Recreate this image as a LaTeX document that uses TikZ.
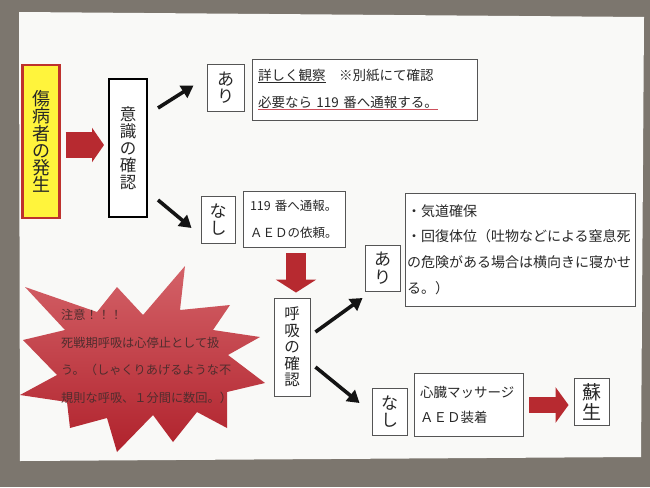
\documentclass[tikz,border=0pt]{standalone}
\usepackage{fontspec}
\newfontfamily\jp{Noto Sans CJK JP}
\usetikzlibrary{arrows.meta,calc}
\definecolor{carpet}{RGB}{124,118,110}
\definecolor{paper}{RGB}{249,249,247}
\definecolor{redarrow}{RGB}{183,42,48}
\definecolor{yel}{RGB}{255,244,60}
\definecolor{yelborder}{RGB}{190,50,45}
\definecolor{boxline}{RGB}{85,85,85}
\definecolor{burstlight}{RGB}{212,98,104}
\definecolor{burstdark}{RGB}{176,34,44}
\definecolor{bursttext}{RGB}{80,45,46}
\definecolor{txt}{RGB}{40,40,40}
\definecolor{wavy}{RGB}{205,80,92}
\newcommand\redul[1]{\leavevmode\setbox0\hbox{#1}\rlap{\color{wavy}\rule[-3.2pt]{\wd0}{0.9pt}}\box0}
\newcommand\grayul[1]{\leavevmode\setbox0\hbox{#1}\rlap{\color{txt}\rule[-3.2pt]{\wd0}{0.9pt}}\box0}
\begin{document}
\begin{tikzpicture}[x=1pt,y=-1pt,
  thinbox/.style={draw=boxline,line width=0.9pt,fill=white,inner sep=0pt,text=txt},
  vbox/.style={thinbox,align=center},
  blackarrow/.style={draw=black!92,line width=3.6pt,-{Triangle[length=12pt,width=14pt]}},
  redblock/.style={draw=redarrow},
]
\useasboundingbox (0,0) rectangle (650,487);
% background and paper
\fill[carpet] (0,0) rectangle (650,487);
\fill[paper] (19,12) -- (644,17) -- (641,457) -- (20,461) -- cycle;

% starburst
\shade[top color=burstlight,bottom color=burstdark]
  (25,287) -- (97,312) -- (117,287) -- (143,315) -- (185,266) -- (180,310)
  -- (230,305) -- (213,330) -- (260,337) -- (228,355) -- (265,383)
  -- (227,392) -- (227,428) -- (197,412) -- (173,442) -- (153,415)
  -- (117,452) -- (107,418) -- (70,428) -- (67,402) -- (20,395)
  -- (57,375) -- (23,340) -- (65,330) -- cycle;
\node[anchor=west,align=left,inner sep=0pt,text=bursttext,
  font=\jp\fontsize{12.2}{27.7}\selectfont] (caution) at (61,356.5)
  {注意！！！\\死戦期呼吸は心停止として扱\\う。（しゃくりあげるような不\\規則な呼吸、１分間に数回。）};

% nodes
\node[draw=yelborder,line width=2.4pt,fill=yel,inner sep=0pt,align=center,
  minimum width=37pt,minimum height=153pt,text=black!85,
  font=\jp\fontsize{18}{17.2}\selectfont] (start) at (41,141.5)
  {傷\\病\\者\\の\\発\\生};
\node[vbox,draw=black,line width=2pt,minimum width=38pt,minimum height=138pt,
  font=\jp\fontsize{16.5}{17}\selectfont] (ishiki) at (128,148)
  {意\\識\\の\\確\\認};
\node[vbox,minimum width=37pt,minimum height=47pt,
  font=\jp\fontsize{17}{17.5}\selectfont] (ari1) at (225.5,87.5) {あ\\り};
\node[thinbox,minimum width=225pt,minimum height=61pt,text width=213pt,align=left,
  font=\jp\fontsize{13.5}{27}\selectfont] (obs) at (364.5,89.5)
  {\grayul{詳しく観察}　※別紙にて確認\\\redul{必要なら 119 番へ通報する。}};
\node[vbox,minimum width=34pt,minimum height=47pt,
  font=\jp\fontsize{17}{17.5}\selectfont] (nashi1) at (218,219.5) {な\\し};
\node[thinbox,minimum width=102pt,minimum height=56pt,text width=88pt,align=left,
  font=\jp\fontsize{12.5}{27}\selectfont] (call) at (294,219)
  {119 番へ通報。\\ＡＥＤの依頼。};
\node[vbox,minimum width=36pt,minimum height=98pt,
  font=\jp\fontsize{15.5}{16.5}\selectfont] (kokyu) at (292,347)
  {呼\\吸\\の\\確\\認};
\node[vbox,minimum width=35pt,minimum height=46pt,
  font=\jp\fontsize{17}{17.5}\selectfont] (ari2) at (382.5,268) {あ\\り};
\node[thinbox,minimum width=230pt,minimum height=113pt,text width=226pt,align=left,
  font=\jp\fontsize{14}{25.7}\selectfont] (airway) at (520,249.5)
  {・気道確保\\・回復体位（吐物などによる窒息死\\の危険がある場合は横向きに寝かせ\\る。）};
\node[vbox,minimum width=35pt,minimum height=47pt,
  font=\jp\fontsize{17}{17.5}\selectfont] (nashi2) at (389.5,411.5) {な\\し};
\node[thinbox,minimum width=109pt,minimum height=63pt,text width=97pt,align=left,
  font=\jp\fontsize{13.5}{25}\selectfont] (cpr) at (468.5,404.5)
  {心臓マッサージ\\ＡＥＤ装着};
\node[vbox,minimum width=35pt,minimum height=47pt,
  font=\jp\fontsize{19}{20}\selectfont] (sosei) at (591.5,401.5) {蘇\\生};

% red block arrows
\draw[redblock,line width=26pt,-{Triangle[length=12pt,width=34pt]},
  shorten <=5pt,shorten >=4pt] ($(start.east)+(0,3.5)$) -- ($(start.east -| ishiki.west)+(0,3.5)$);
\draw[redblock,line width=20pt,-{Triangle[length=13pt,width=40pt]},
  shorten <=6pt,shorten >=5pt] ([xshift=2pt]call.south) -- ([xshift=2pt]call.south |- kokyu.north);
\draw[redblock,line width=16pt,-{Triangle[length=13pt,width=35pt]},
  shorten <=6pt,shorten >=5pt] ($(cpr.east)+(0,0.5)$) -- ($(cpr.east -| sosei.west)+(0,0.5)$);

% black arrows
\draw[blackarrow] ($(ishiki.east)+(10,-40)$) -- ($(ari1.west)+(-13,-2)$);
\draw[blackarrow] ($(ishiki.east)+(10,52)$) -- ($(nashi1.west)+(-9,8.5)$);
\draw[blackarrow] ($(kokyu.east)+(5,-15)$) -- ($(ari2.west)+(-2,30)$);
\draw[blackarrow] ($(kokyu.east)+(5,20)$) -- ($(nashi2.west)+(-12,-8.5)$);
\end{tikzpicture}
\end{document}
